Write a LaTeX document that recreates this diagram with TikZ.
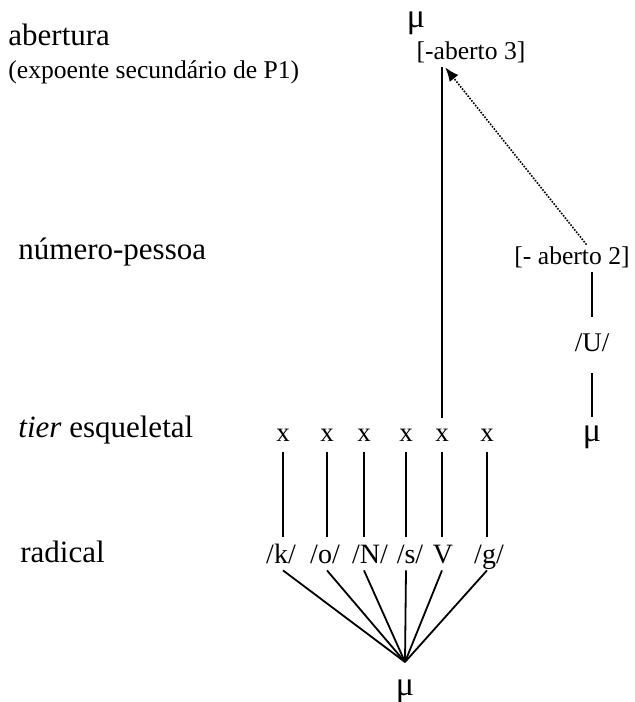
\documentclass[tikz,border=0pt]{standalone}
\usepackage{fontspec}
\setmainfont{Liberation Serif}
\usetikzlibrary{arrows.meta,positioning}

\begin{document}
\begin{tikzpicture}[x=0.5pt,y=-0.5pt,
    lbl/.style={anchor=base west,inner sep=0,font=\fontsize{15.5}{18}\selectfont},
    lblsmall/.style={lbl,font=\fontsize{12.8}{15}\selectfont},
    seg/.style={anchor=base,inner xsep=0,inner ysep=5.5pt,text height=6pt,text depth=0pt,font=\fontsize{13.5}{16}\selectfont},
    rad/.style={anchor=base,inner xsep=0,inner ysep=3.5pt,text height=9.5pt,text depth=0pt,font=\fontsize{14}{16}\selectfont},
    feat/.style={anchor=base,inner xsep=0,inner ysep=4pt,text height=9pt,text depth=0pt,font=\fontsize{12.8}{15}\selectfont},
    morph/.style={anchor=base,inner xsep=0,inner ysep=8pt,text height=9pt,text depth=3pt,font=\fontsize{13.5}{16}\selectfont},
    mu/.style={anchor=base,inner xsep=0,inner ysep=6pt,text height=6pt,text depth=0pt,font=\fontsize{17}{19}\selectfont},
    ln/.style={line width=0.9pt},
    dotarrow/.style={line width=0.8pt,dash pattern=on 0.8pt off 0.7pt,-{Latex[length=7pt,width=5.5pt]}}]
    \useasboundingbox (0,0) rectangle (634,702);

    % Niveaux (etiquettes a gauche)
    \node[lbl] (abert) at (8,45) {abertura};
    \node[lblsmall] (expo) at (8,78) {(expoente secundário de P1)};
    \node[lbl] (numpes) at (18,259) {número-pessoa};
    \node[lbl] (tier) at (18,437) {\textit{tier} esqueletal};
    \node[lbl] (radic) at (20,562) {radical};

    % Squelette
    \foreach \i/\px in {1/283,2/327,3/364,4/406,5/442,6/487} {
        \node[seg] (x\i) at (\px,441) {x};
    }

    % Radical
    \node[rad] (r1) at (281,563) {/k/};
    \node[rad] (r2) at (325,563) {/o/};
    \node[rad] (r3) at (370,563) {/N/};
    \node[rad] (r4) at (410,563) {/s/};
    \node[rad] (r5) at (443,563) {V};
    \node[rad] (r6) at (489,563) {/g/};
    \coordinate (fan) at (405,662);
    \node[mu] (mubot) at (405,695) {μ};

    \foreach \i in {1,...,6} {
        \draw[ln] (x\i.south) -- (x\i.south |- r\i.north);
        \draw[ln] (x\i.south |- r\i.south) -- (fan);
    }

    % Abertura
    \node[mu] (mutop) at (416,27) {μ};
    \node[feat] (ab3) at (471,59) {[-aberto 3]};
    \draw[ln] (x5.north) -- (x5.north |- ab3.south);

    % Numero-pessoa
    \node[feat] (ab2) at (572,264) {[- aberto 2]};
    \node[morph] (U) at (592,351) {/U/};
    \node[mu] (muright) at (592,441) {μ};
    \draw[ln] (U.north) -- (U.north |- ab2.south);
    \draw[ln] (U.south) -- (muright.north);
    \draw[dotarrow] ([xshift=7.25pt,yshift=-3.5pt]ab2.north) -- ([xshift=14.5pt]ab3.south west);
\end{tikzpicture}
\end{document}
